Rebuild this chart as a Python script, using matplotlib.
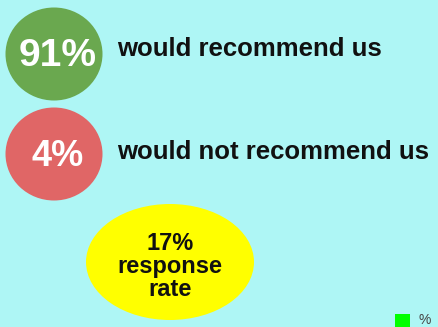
'''
Survey summary badges
'''

import matplotlib
matplotlib.use('Agg')
import matplotlib.pyplot as plt
from matplotlib.patches import Ellipse, Rectangle

# Data
LABELS = ['would recommend us', 'would not recommend us']
VALUES = [91, 4]
RESPONSE_RATE = 17
LEGEND_LABEL = '%'

# Style
BG = '#aef6f5'
BADGE_COLOURS = ['#6aa84f', '#e06666']
BADGE_FONTSIZE = [28, 26]
FONT = ['Liberation Sans', 'DejaVu Sans']

W, H = 439, 327
fig = plt.figure(figsize=(W / 100, H / 100), dpi=100, facecolor=BG)
ax = fig.add_axes([0, 0, 1, 1])
ax.set_xlim(0, W)
ax.set_ylim(H, 0)
ax.set_facecolor(BG)
ax.axis('off')

# Recommend / not-recommend badges
rowY = [54, 154]
labelY = [49, 152]
for y, ly, val, lab, col, fs in zip(rowY, labelY, VALUES, LABELS, BADGE_COLOURS, BADGE_FONTSIZE):
    ax.add_patch(Ellipse((54, y), 97, 93, facecolor=col, edgecolor='none'))
    ax.text(58, y + 2, f'{val}%', color='white', fontsize=fs, fontweight='bold',
            family=FONT, ha='center', va='center')
    ax.text(117, ly, lab, color='#111111', fontsize=18.5, fontweight='bold',
            family=FONT, ha='left', va='center')

# Response rate bubble
ax.add_patch(Ellipse((170, 262), 168, 116, facecolor='#ffff00', edgecolor='none'))
ax.text(170, 267, f'{RESPONSE_RATE}%\nresponse\nrate', color='#111111', fontsize=17,
        fontweight='bold', family=FONT, ha='center', va='center', linespacing=1.0)

# Legend stub
ax.add_patch(Rectangle((395, 314), 15, 15, facecolor='#00ff00', edgecolor='none'))
ax.text(419, 320, LEGEND_LABEL, color='#444444', fontsize=10, family=FONT,
        ha='left', va='center')

fig.savefig('out.png', dpi=100, facecolor=BG)
